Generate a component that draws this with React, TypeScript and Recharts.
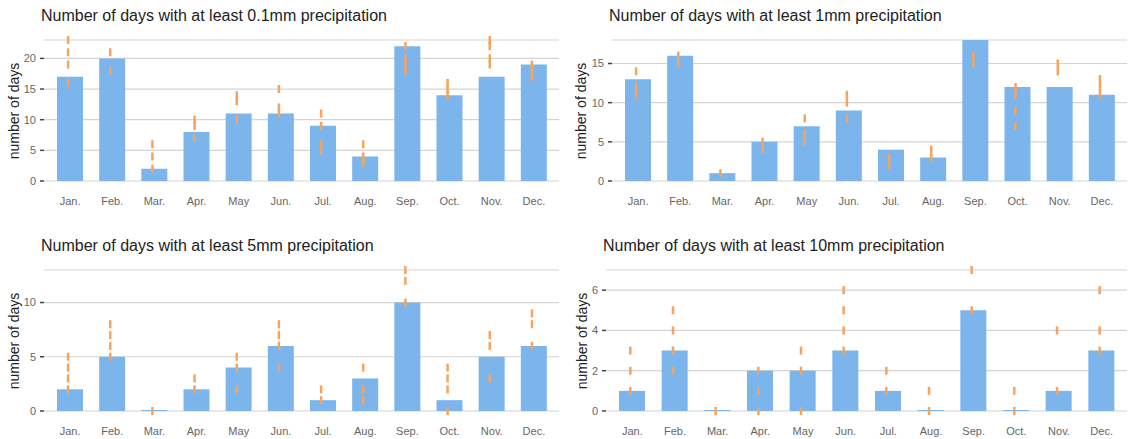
import React from 'react';
import { ComposedChart, Bar, Line, XAxis, YAxis, CartesianGrid } from 'recharts';

const months = ['Jan.', 'Feb.', 'Mar.', 'Apr.', 'May', 'Jun.', 'Jul.', 'Aug.', 'Sep.', 'Oct.', 'Nov.', 'Dec.'];

// at least 0.1mm
const days01 = [17, 20, 2, 8, 11, 11, 9, 4, 22, 14, 17, 19];
const years01 = [[23, 21, 19, 16], [21, 18], [6, 4, 2], [10, 9, 7], [14, 13, 10], [15, 12, 11], [11, 9, 6, 5], [6, 4, 3], [22, 20, 19, 18], [16, 15, 14], [23, 22, 20, 19], [19, 18, 17]];
const ticks01 = [0, 5, 10, 15, 20];

// at least 1mm
const days1 = [13, 16, 1, 5, 7, 9, 4, 3, 18, 12, 12, 11];
const years1 = [[14, 12, 11], [16, 15], [1], [5, 4], [8, 6, 5], [11, 10, 8], [3, 2], [4, 3], [16, 15], [12, 11, 9, 7], [15, 14], [13, 12, 11]];
const ticks1 = [0, 5, 10, 15];

// at least 5mm
const days5 = [2, 5, 0, 2, 4, 6, 1, 3, 10, 1, 5, 6];
const years5 = [[5, 4, 3, 2], [8, 7, 6, 5], [0], [3, 2], [5, 4, 2], [8, 7, 6, 4], [2, 1], [4, 2, 1], [13, 12, 10], [4, 3, 2, 0], [7, 6, 3], [9, 8, 6]];
const ticks5 = [0, 5, 10];

// at least 10mm
const days10 = [1, 3, 0, 2, 2, 3, 1, 0, 5, 0, 1, 3];
const years10 = [[3, 2, 1], [5, 4, 3, 2], [0], [2, 1, 0], [3, 2, 0], [6, 5, 4, 3], [2, 1], [1, 0], [7, 5], [1, 0], [4, 1], [6, 4, 3]];
const ticks10 = [0, 2, 4, 6];

const MARK_SLOTS = [0, 1, 2, 3];
const FONT = '"Liberation Sans", Arial, Helvetica, sans-serif';
const BAR_COLOR = '#7cb5ec';
const MARK_COLOR = '#f7a35c';

function buildRows(bars: number[], marks: number[][]) {
  return months.map((m, i) => {
    const row: any = { month: m, value: bars[i] };
    MARK_SLOTS.forEach((s) => {
      row['y' + s] = marks[i][s] !== undefined ? marks[i][s] : null;
    });
    return row;
  });
}

const Mark = (props: any) => {
  const { cx, cy } = props;
  if (cx == null || cy == null || Number.isNaN(cy)) return <g />;
  return (
    <line x1={cx - 2} x2={cx - 2} y1={cy - 4} y2={cy + 4} stroke={MARK_COLOR} strokeWidth={2.5} />
  );
};

type PanelProps = {
  title: string;
  bars: number[];
  marks: number[][];
  ticks: number[];
  left: number;
  top: number;
  height: number;
  marginTop: number;
  marginRight: number;
  yWidth: number;
  xAxisHeight: number;
  padLeft: number;
  padRight: number;
  titleLeft: number;
  titleTop: number;
  yTitleX: number;
  yTitleY: number;
};

function Panel(p: PanelProps) {
  const rows = buildRows(p.bars, p.marks);
  const maxVal = Math.max(...p.bars, ...p.marks.flat());
  return (
    <>
      <div
        style={{
          position: 'absolute',
          left: p.titleLeft,
          top: p.titleTop,
          fontSize: 16,
          lineHeight: '16px',
          whiteSpace: 'nowrap',
          color: '#222',
          fontFamily: FONT,
        }}
      >
        {p.title}
      </div>
      <div
        style={{
          position: 'absolute',
          left: p.yTitleX,
          top: p.yTitleY,
          transform: 'translate(-50%, -50%) rotate(-90deg)',
          fontSize: 14,
          lineHeight: '14px',
          whiteSpace: 'nowrap',
          color: '#222',
          fontFamily: FONT,
        }}
      >
        number of days
      </div>
      <div style={{ position: 'absolute', left: p.left, top: p.top }}>
        <ComposedChart
          width={564}
          height={p.height}
          data={rows}
          margin={{ top: p.marginTop, right: p.marginRight, bottom: 0, left: 0 }}
          style={{ fontFamily: FONT }}
        >
          <CartesianGrid vertical={false} stroke="#d4d4d4" strokeWidth={1.2} />
          <XAxis
            dataKey="month"
            axisLine={false}
            tickLine={false}
            tickSize={6}
            tickMargin={10}
            height={p.xAxisHeight}
            padding={{ left: p.padLeft, right: p.padRight }}
            interval={0}
            tick={{ fill: '#666', fontSize: 11, fontFamily: FONT }}
          />
          <YAxis
            width={p.yWidth}
            domain={[0, maxVal]}
            ticks={p.ticks}
            axisLine={false}
            tickLine={{ stroke: '#444', strokeWidth: 1.5 }}
            tickSize={4}
            tickMargin={4}
            tick={{ fill: '#666', fontSize: 11, fontFamily: FONT }}
          />
          <Bar dataKey="value" fill={BAR_COLOR} barSize={26} minPointSize={1} isAnimationActive={false} />
          {MARK_SLOTS.map((s) => (
            <Line
              key={s}
              dataKey={'y' + s}
              stroke="none"
              dot={Mark}
              activeDot={false}
              legendType="none"
              isAnimationActive={false}
            />
          ))}
        </ComposedChart>
      </div>
    </>
  );
}

export default function App() {
  return (
    <div
      style={{
        position: 'absolute',
        left: 0,
        top: 0,
        width: 1128,
        height: 439,
        background: '#fff',
        overflow: 'hidden',
      }}
    >
      <Panel
        title="Number of days with at least 0.1mm precipitation"
        bars={days01}
        marks={years01}
        ticks={ticks01}
        left={0}
        top={0}
        height={220}
        marginTop={40}
        marginRight={5}
        yWidth={44}
        xAxisHeight={39}
        padLeft={5}
        padRight={4}
        titleLeft={41}
        titleTop={8}
        yTitleX={14}
        yTitleY={111}
      />
      <Panel
        title="Number of days with at least 1mm precipitation"
        bars={days1}
        marks={years1}
        ticks={ticks1}
        left={564}
        top={0}
        height={220}
        marginTop={40}
        marginRight={1}
        yWidth={48}
        xAxisHeight={39}
        padLeft={5}
        padRight={4}
        titleLeft={609}
        titleTop={8}
        yTitleX={581}
        yTitleY={111}
      />
      <Panel
        title="Number of days with at least 5mm precipitation"
        bars={days5}
        marks={years5}
        ticks={ticks5}
        left={0}
        top={220}
        height={219}
        marginTop={50}
        marginRight={5}
        yWidth={44}
        xAxisHeight={28}
        padLeft={5}
        padRight={4}
        titleLeft={41}
        titleTop={238}
        yTitleX={14}
        yTitleY={341}
      />
      <Panel
        title="Number of days with at least 10mm precipitation"
        bars={days10}
        marks={years10}
        ticks={ticks10}
        left={564}
        top={220}
        height={219}
        marginTop={50}
        marginRight={1}
        yWidth={42}
        xAxisHeight={28}
        padLeft={5}
        padRight={4}
        titleLeft={603}
        titleTop={238}
        yTitleX={582}
        yTitleY={341}
      />
    </div>
  );
}
